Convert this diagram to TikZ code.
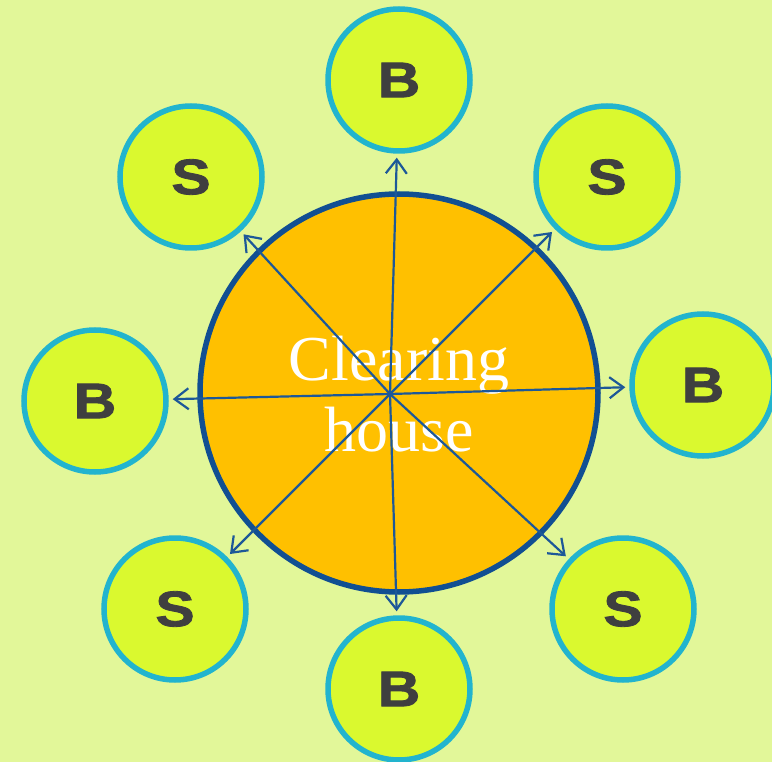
\documentclass[tikz,border=0pt]{standalone}
\usepackage{fontspec}
\setmainfont{Liberation Serif}
\newfontfamily\letterfont[FakeStretch=1.18,BoldFeatures={FakeBold=1.6}]{Liberation Sans}
\usepackage{tikz}
\usetikzlibrary{arrows.meta}
\definecolor{bgGreen}{HTML}{E2F799}
\definecolor{partyFill}{HTML}{DAF92F}
\definecolor{partyEdge}{HTML}{22B4CE}
\definecolor{houseFill}{HTML}{FFC000}
\definecolor{houseEdge}{HTML}{114F92}
\definecolor{flowBlue}{HTML}{1D5898}
\definecolor{letterGray}{HTML}{3F3F3F}

\begin{document}
\begin{tikzpicture}[x=1pt,y=-1pt,
  party/.style={circle,draw=partyEdge,fill=partyFill,line width=5.5pt,
    minimum size=142pt,inner sep=0pt,text=letterGray,
    font=\letterfont\bfseries\fontsize{50}{50}\selectfont},
  flow/.style={draw=flowBlue,line width=2.2pt,
    -{Straight Barb[length=14pt,width=21pt]},shorten >=4pt}]
%%% background
\fill[bgGreen] (0,0) rectangle (772,762);
\useasboundingbox (0,0) rectangle (772,762);
%%% the clearing house in the middle
\node[circle,draw=houseEdge,fill=houseFill,line width=5.5pt,
  minimum size=398pt,inner sep=0pt] (house) at (399,393) {};
\node[text=white,align=center,font=\fontsize{64}{71}\selectfont]
  (name) at (399,394) {Clearing\\house};
\coordinate (hub) at (390,394);
%%% buyers and sellers around it
\node[party] (b1) at (399,80) {B};
\node[party] (s1) at (607,177) {S};
\node[party] (b2) at (703,385) {B};
\node[party] (s2) at (623,609) {S};
\node[party] (b3) at (399,689) {B};
\node[party] (s3) at (175,609) {S};
\node[party] (b4) at (95,401) {B};
\node[party] (s4) at (191,177) {S};
%%% one arrow to each of them
\foreach \p in {b1,s1,b2,s2,b3,s3,b4,s4}
  \draw[flow] (hub) -- (\p);
\end{tikzpicture}
\end{document}
